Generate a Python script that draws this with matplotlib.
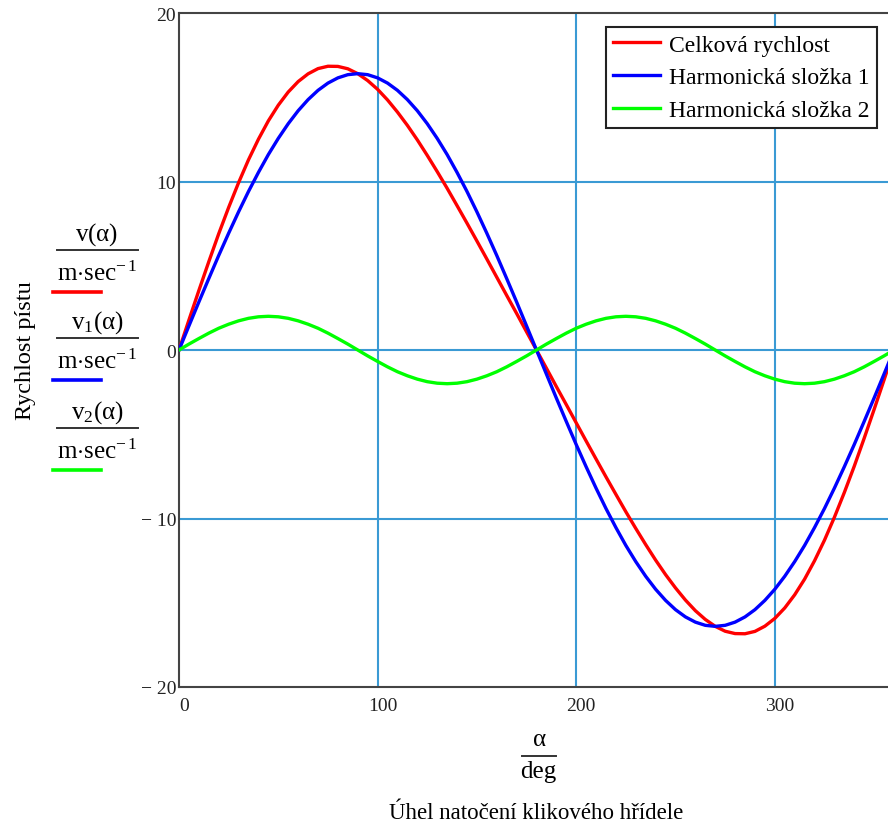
import matplotlib
matplotlib.use('Agg')
import matplotlib.pyplot as plt
from matplotlib.lines import Line2D
from matplotlib.transforms import ScaledTranslation

plt.rcParams['font.family'] = ['Liberation Serif', 'DejaVu Serif']
plt.rcParams['mathtext.fontset'] = 'custom'
plt.rcParams['mathtext.rm'] = 'Liberation Serif'
plt.rcParams['mathtext.it'] = 'Liberation Serif'

# úhel natočení [deg], krok 5°
alpha = list(range(0, 365, 5))

# [m/s]
v_celk = [0, 1.78, 3.53, 5.24, 6.90, 8.46, 9.93, 11.29, 12.51, 13.60, 14.53, 15.31,
          15.93, 16.39, 16.70, 16.84, 16.83, 16.69, 16.40, 15.99, 15.47, 14.84, 14.12, 13.33,
          12.47, 11.55, 10.59, 9.60, 8.57, 7.53, 6.47, 5.40, 4.32, 3.24, 2.17, 1.08,
          0, -1.08, -2.17, -3.24, -4.32, -5.40, -6.47, -7.53, -8.57, -9.60, -10.59, -11.55,
          -12.47, -13.33, -14.12, -14.84, -15.47, -15.99, -16.40, -16.69, -16.83, -16.84, -16.70, -16.39,
          -15.93, -15.31, -14.53, -13.60, -12.51, -11.29, -9.93, -8.46, -6.90, -5.24, -3.53, -1.78, 0]
v_h1 = [0, 1.43, 2.85, 4.24, 5.61, 6.93, 8.20, 9.41, 10.54, 11.60, 12.56, 13.43,
        14.20, 14.86, 15.41, 15.84, 16.15, 16.34, 16.40, 16.34, 16.15, 15.84, 15.41, 14.86,
        14.20, 13.43, 12.56, 11.60, 10.54, 9.41, 8.20, 6.93, 5.61, 4.24, 2.85, 1.43,
        0, -1.43, -2.85, -4.24, -5.61, -6.93, -8.20, -9.41, -10.54, -11.60, -12.56, -13.43,
        -14.20, -14.86, -15.41, -15.84, -16.15, -16.34, -16.40, -16.34, -16.15, -15.84, -15.41, -14.86,
        -14.20, -13.43, -12.56, -11.60, -10.54, -9.41, -8.20, -6.93, -5.61, -4.24, -2.85, -1.43, 0]
v_h2 = [0, 0.35, 0.68, 1.00, 1.29, 1.53, 1.73, 1.88, 1.97, 2.00, 1.97, 1.88,
        1.73, 1.53, 1.29, 1.00, 0.68, 0.35, 0, -0.35, -0.68, -1.00, -1.29, -1.53,
        -1.73, -1.88, -1.97, -2.00, -1.97, -1.88, -1.73, -1.53, -1.29, -1.00, -0.68, -0.35,
        0, 0.35, 0.68, 1.00, 1.29, 1.53, 1.73, 1.88, 1.97, 2.00, 1.97, 1.88,
        1.73, 1.53, 1.29, 1.00, 0.68, 0.35, 0, -0.35, -0.68, -1.00, -1.29, -1.53,
        -1.73, -1.88, -1.97, -2.00, -1.97, -1.88, -1.73, -1.53, -1.29, -1.00, -0.68, -0.35, 0]

nazvy = ['Celková rychlost', 'Harmonická složka 1', 'Harmonická složka 2']
barvy = ['#ff0000', '#0000ff', '#00ff00']

W, H = 888, 828
fig = plt.figure(figsize=(W / 100, H / 100), dpi=100)
ax = fig.add_axes([179 / W, 1 - 688 / H, (W - 179) / W, (688 - 14) / H])

ax.set_xlim(0, 357)
ax.set_ylim(-20, 20)
ax.set_xticks([0, 100, 200, 300])
ax.set_yticks([-20, -10, 0, 10, 20])
ax.set_yticklabels(['\u2212 20', '\u2212 10', '0', '10', '20'])
ax.tick_params(length=0, labelsize=14, colors='#222222')
ax.tick_params(axis='x', pad=7)
ax.tick_params(axis='y', pad=2)
posun = ScaledTranslation(5 / 100, 0, fig.dpi_scale_trans)
for i, lab in enumerate(ax.get_xticklabels()):
    if i == 0:
        lab.set_horizontalalignment('left')
    else:
        lab.set_transform(lab.get_transform() + posun)

for g in [100, 200, 300]:
    ax.axvline(g, color='#3a9ad4', lw=1.5, zorder=1)
for g in [-10, 0, 10]:
    ax.axhline(g, color='#3a9ad4', lw=1.5, zorder=1)

for s in ['left', 'bottom', 'top']:
    ax.spines[s].set_color('#444444')
    ax.spines[s].set_linewidth(1.5)
ax.spines['right'].set_visible(False)

for data, c, n in zip([v_celk, v_h1, v_h2], barvy, nazvy):
    ax.plot(alpha, data, color=c, lw=2.4, label=n, zorder=3)

leg = ax.legend(loc='upper right', bbox_to_anchor=((877 - 179) / (W - 179), 1 - 14 / 674),
                fontsize=17, frameon=True, fancybox=False, handlelength=2.0,
                borderpad=0.3, labelspacing=0.48, handletextpad=0.4, borderaxespad=0)
leg.get_frame().set_edgecolor('#222222')
leg.get_frame().set_linewidth(1.5)
leg.get_frame().set_alpha(1)

# popisek osy y
fig.text(25 / W, 1 - 351 / H, 'Rychlost pístu', rotation=90, ha='center', va='center', fontsize=17.5)
citatele = [r'v($\alpha$)', r'v$_1$($\alpha$)', r'v$_2$($\alpha$)']
y_cit = [235, 323, 413]
for cit, yc, c in zip(citatele, y_cit, barvy):
    fig.text(97 / W, 1 - yc / H, cit, ha='center', va='center', fontsize=18)
    fig.add_artist(Line2D([57 / W, 138 / W], [1 - (yc + 16) / H] * 2, color='#333333', lw=1.4))
    fig.text(97 / W, 1 - (yc + 39) / H, r'm$\cdot$sec$^{\mathregular{-\,1}}$', ha='center', va='center', fontsize=18)
    fig.add_artist(Line2D([53 / W, 101 / W], [1 - (yc + 58) / H] * 2, color=c, lw=2.6))

# popisek osy x
fig.text(539 / W, 1 - 740 / H, r'$\alpha$', ha='center', va='center', fontsize=18)
fig.add_artist(Line2D([522 / W, 556 / W], [1 - 757 / H] * 2, color='#333333', lw=1.4))
fig.text(538 / W, 1 - 772 / H, 'deg', ha='center', va='center', fontsize=18)
fig.text(536 / W, 1 - 814 / H, 'Úhel natočení klikového hřídele', ha='center', va='center', fontsize=16.5)

fig.savefig('out.png', dpi=100)
